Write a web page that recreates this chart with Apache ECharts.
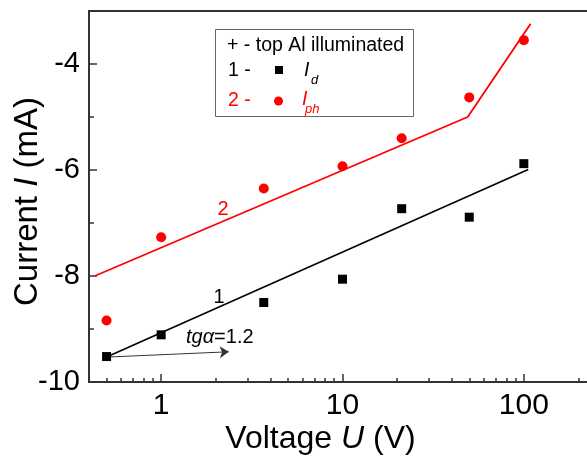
<!DOCTYPE html>
<html><head><meta charset="utf-8">
<script src="https://cdn.jsdelivr.net/npm/echarts@6/dist/echarts.min.js"></script>
<style>html,body{margin:0;padding:0;background:#fff}#c{width:587px;height:457px}</style>
</head><body><div id="c"></div>
<script>
// Measured data (voltage in V, current in mA)
const voltages = [0.5, 1, 3.68, 10, 21.2, 50, 100];
const darkCurrent = [-9.52, -9.11, -8.50, -8.06, -6.73, -6.89, -5.88];
const photoCurrent = [-8.84, -7.27, -6.35, -5.93, -5.40, -4.63, -3.55];
// Fit lines
const fitDarkV = [0.5, 105.7];
const fitDarkI = [-9.53, -5.99];
const fitPhotoV = [0.43, 49, 109];
const fitPhotoI = [-8.0, -5.0, -3.24];
// Slope arrow
const slopeArrowV = [0.5, 2.36];
const slopeArrowI = [-9.53, -9.43];
// Ticks
const xMajorTicks = [1, 10, 100];
const xMinorTicks = [0.5, 0.6, 0.7, 0.8, 0.9, 2, 3, 4, 5, 6, 7, 8, 9, 20, 30, 40, 50, 60, 70, 80, 90, 200];
const yMajorTicks = [-10, -8, -6, -4];
const yMinorTicks = [-9, -7, -5];

const FONT = "'Liberation Sans', Arial, sans-serif";
const AX = '#333';
const zip = (a, b) => a.map((v, i) => [v, b[i]]);

const chart = echarts.init(document.getElementById('c'), null, {renderer: 'canvas'});

const xBase = {
  type: 'log', logBase: 10, min: 0.4, max: 250, gridIndex: 0, position: 'bottom',
  splitLine: {show: false}, minorTick: {show: false}, minorSplitLine: {show: false}
};
const yBase = {
  type: 'value', min: -10, max: -3, gridIndex: 0, position: 'left',
  splitLine: {show: false}, minorTick: {show: false}
};

chart.setOption({
  animation: false,
  backgroundColor: '#fff',
  textStyle: {fontFamily: FONT},
  grid: {left: 89, top: 11, bottom: 75, right: -9, containLabel: false, outerBoundsMode: 'none',
    show: true, borderColor: AX, borderWidth: 2, backgroundColor: 'transparent'},
  xAxis: [
    Object.assign({}, xBase, {
      axisLine: {show: true, lineStyle: {color: AX, width: 2}},
      axisTick: {show: true, inside: true, length: 8, customValues: xMajorTicks, lineStyle: {color: AX, width: 1.5}},
      axisLabel: {show: true, customValues: xMajorTicks, fontSize: 30, color: '#000', fontFamily: FONT, margin: 9,
        formatter: v => String(Math.round(v))},
      name: '{n|Voltage }{i|U}{n| (V)}',
      nameLocation: 'middle', nameGap: 41, nameMoveOverlap: false,
      nameTextStyle: {padding: [0, 44, 0, 0], rich: {
        n: {fontSize: 32, fontFamily: FONT, color: '#000'},
        i: {fontSize: 32, fontFamily: FONT, fontStyle: 'italic', color: '#000'}}}
    }),
    Object.assign({}, xBase, {
      axisLine: {show: false},
      axisTick: {show: true, inside: true, length: 4, customValues: xMinorTicks, lineStyle: {color: AX, width: 1.5}},
      axisLabel: {show: false}
    })
  ],
  yAxis: [
    Object.assign({}, yBase, {
      axisLine: {show: true, lineStyle: {color: AX, width: 2}},
      axisTick: {show: true, inside: true, length: 8, customValues: yMajorTicks, lineStyle: {color: AX, width: 1.5}},
      axisLabel: {show: true, customValues: yMajorTicks, fontSize: 29, color: '#000', fontFamily: FONT, margin: 9},
      name: '{n|Current }{i|I}{n| (mA)}',
      nameLocation: 'middle', nameGap: 45, nameMoveOverlap: false,
      nameTextStyle: {padding: [0, 10, 0, 0], rich: {
        n: {fontSize: 33, fontFamily: FONT, color: '#000'},
        i: {fontSize: 33, fontFamily: FONT, fontStyle: 'italic', color: '#000'}}}
    }),
    Object.assign({}, yBase, {
      axisLine: {show: false},
      axisTick: {show: true, inside: true, length: 5, customValues: yMinorTicks, lineStyle: {color: AX, width: 1.5}},
      axisLabel: {show: false}
    })
  ],
  series: [
    {
      type: 'line', name: 'fit dark', xAxisIndex: 0, yAxisIndex: 0,
      data: zip(fitDarkV, fitDarkI), showSymbol: false, symbol: 'none',
      lineStyle: {color: '#000', width: 1.6}, z: 2,
      markLine: {
        silent: true, symbol: ['none', 'arrow'], symbolSize: 9,
        label: {show: false},
        lineStyle: {color: '#333', width: 1, type: 'solid'},
        data: [[{coord: [slopeArrowV[0], slopeArrowI[0]]}, {coord: [slopeArrowV[1], slopeArrowI[1]]}]]
      }
    },
    {
      type: 'line', name: 'fit photo', xAxisIndex: 0, yAxisIndex: 0,
      data: zip(fitPhotoV, fitPhotoI), showSymbol: false, symbol: 'none',
      lineStyle: {color: '#ff0000', width: 1.8}, z: 2
    },
    {
      type: 'scatter', name: 'I_d', xAxisIndex: 0, yAxisIndex: 0,
      data: zip(voltages, darkCurrent), symbol: 'rect', symbolSize: 9,
      itemStyle: {color: '#000', opacity: 1}, z: 5
    },
    {
      type: 'scatter', name: 'I_ph', xAxisIndex: 0, yAxisIndex: 0,
      data: zip(voltages, photoCurrent), symbol: 'circle', symbolSize: 10,
      itemStyle: {color: '#ff0000', opacity: 1}, z: 5
    }
  ],
  graphic: [
    {type: 'rect', shape: {x: 215.5, y: 29.5, width: 198, height: 87}, style: {fill: '#fff', stroke: '#666', lineWidth: 1}, z: 10},
    {type: 'text', x: 227, y: 46, style: {text: '+ - top Al illuminated', fontSize: 19.5, fontFamily: FONT, fill: '#000', verticalAlign: 'middle'}, z: 11},
    {type: 'text', x: 228, y: 71, style: {text: '1 -', fontSize: 19.5, fontFamily: FONT, fill: '#000', verticalAlign: 'middle'}, z: 11},
    {type: 'rect', shape: {x: 275, y: 66, width: 8, height: 8}, style: {fill: '#000'}, z: 11},
    {type: 'text', x: 304, y: 71, style: {text: 'I', fontSize: 19.5, fontStyle: 'italic', fontFamily: FONT, fill: '#000', verticalAlign: 'middle'}, z: 11},
    {type: 'text', x: 311, y: 80, style: {text: 'd', fontSize: 13, fontStyle: 'italic', fontFamily: FONT, fill: '#000', verticalAlign: 'middle'}, z: 11},
    {type: 'text', x: 228, y: 101, style: {text: '2 -', fontSize: 19.5, fontFamily: FONT, fill: '#ff0000', verticalAlign: 'middle'}, z: 11},
    {type: 'circle', shape: {cx: 278.5, cy: 101, r: 4.5}, style: {fill: '#ff0000'}, z: 11},
    {type: 'text', x: 302, y: 100, style: {text: 'I', fontSize: 19.5, fontStyle: 'italic', fontFamily: FONT, fill: '#ff0000', verticalAlign: 'middle'}, z: 11},
    {type: 'text', x: 305, y: 109, style: {text: 'ph', fontSize: 13, fontStyle: 'italic', fontFamily: FONT, fill: '#ff0000', verticalAlign: 'middle'}, z: 11},
    {type: 'text', x: 219, y: 297, style: {text: '1', fontSize: 20, fontFamily: FONT, fill: '#000', align: 'center', verticalAlign: 'middle'}, z: 11},
    {type: 'text', x: 223, y: 209, style: {text: '2', fontSize: 20, fontFamily: FONT, fill: '#ff0000', align: 'center', verticalAlign: 'middle'}, z: 11},
    {type: 'text', x: 186, y: 337, style: {text: '{i|tgα}{n|=1.2}', fontFamily: FONT, verticalAlign: 'middle',
      rich: {i: {fontSize: 20, fontStyle: 'italic', fontFamily: FONT, fill: '#000'}, n: {fontSize: 20, fontFamily: FONT, fill: '#000'}}}, z: 11}
  ]
});
</script>
</body></html>
